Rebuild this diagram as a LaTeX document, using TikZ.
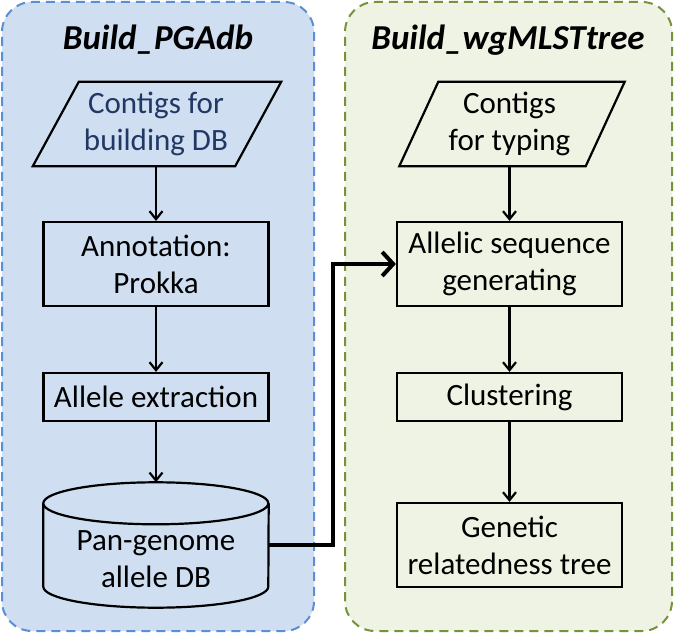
\documentclass[tikz,border=0pt]{standalone}
\usepackage{fontspec}
\setmainfont{Carlito}
\usetikzlibrary{arrows.meta}
\definecolor{pgafill}{HTML}{CFDEF1}
\definecolor{pgaline}{HTML}{5B8FD4}
\definecolor{mlstfill}{HTML}{EFF3E4}
\definecolor{mlstline}{HTML}{76923C}
\definecolor{dbtext}{HTML}{203864}
\tikzset{%
  font=\fontsize{31}{37}\selectfont,
  >={Straight Barb[length=8pt,width=13pt]},
  panel/.style={rounded corners=30pt, line width=2pt, dash pattern=on 9pt off 6pt},
  title/.style={anchor=base, font=\fontsize{35}{40}\selectfont\bfseries\itshape},
  block/.style={draw, rectangle, line width=2.2pt, minimum width=225pt, align=center, inner sep=0pt},
  inout/.style={rectangle, minimum height=84pt, align=center, inner sep=0pt},
  cyl/.style={rectangle, minimum width=225pt, minimum height=125pt, inner sep=0pt},
  outline/.style={line width=2.2pt},
  line/.style={draw, line width=2.2pt, ->},
  link/.style={draw, line width=4pt, -{Straight Barb[length=11pt,width=24pt]}}
}
\begin{document}
\begin{tikzpicture}[x=1pt,y=1pt]
  \useasboundingbox (0,0) rectangle (675,633);
  % the two stages
  \draw[panel, draw=pgaline, fill=pgafill] (2,2) rectangle (314,631);
  \draw[panel, draw=mlstline, fill=mlstfill] (345,2) rectangle (672,631);
  % Build_PGAdb
  \node[title] (pgatitle) at (158,583) {Build\_PGAdb};
  \node[inout, minimum width=202pt, text=dbtext] (contigsdb) at (156,509) {Contigs for\\building DB};
  \draw[outline] ([xshift=24pt]contigsdb.north west) -- ([xshift=24pt]contigsdb.north east)
    -- ([xshift=-22pt]contigsdb.south east) -- ([xshift=-22pt]contigsdb.south west) -- cycle;
  \node[block, minimum height=84pt] (annot) at (156,369) {Annotation:\\Prokka};
  \node[block, minimum height=48pt] (extract) at (156,236) {Allele extraction};
  \node[cyl] (pandb) at (156,88) {};
  \node[align=center, inner sep=0pt] (pandbtext) at ([yshift=-14pt]pandb.center) {Pan-genome\\allele DB};
  \draw[outline] ([yshift=-21pt]pandb.north west)
    arc[start angle=180, end angle=360, x radius=112.5pt, y radius=21pt]
    arc[start angle=0, end angle=180, x radius=112.5pt, y radius=21pt]
    -- ([yshift=21pt]pandb.south west)
    arc[start angle=180, end angle=360, x radius=112.5pt, y radius=21pt]
    -- ([yshift=-21pt]pandb.north east);
  % Build_wgMLSTtree
  \node[title] (mlsttitle) at (508,583) {Build\_wgMLSTtree};
  \node[inout, minimum width=186pt] (contigstype) at (509.5,509) {Contigs\\for typing};
  \draw[outline] ([xshift=22pt]contigstype.north west) -- ([xshift=22pt]contigstype.north east)
    -- ([xshift=-17pt]contigstype.south east) -- ([xshift=-17pt]contigstype.south west) -- cycle;
  \node[block, minimum height=84pt] (allelic) at (509.5,369) {Allelic sequence\\generating};
  \node[block, minimum height=48pt] (cluster) at (509.5,236) {Clustering};
  \node[block, minimum height=84pt] (tree) at (509.5,88) {Genetic\\relatedness tree};
  % flow
  \draw[line] (annot.north |- contigsdb.south) -- (annot.north);
  \draw[line] (annot) -- (extract);
  \draw[line] (extract) -- (pandb.north);
  \draw[line] (contigstype.south) -- (allelic.north);
  \draw[line] (allelic) -- (cluster);
  \draw[line] (cluster) -- (tree);
  \draw[link] (pandb.east) -- ++(64,0) |- (allelic.west);
\end{tikzpicture}
\end{document}
